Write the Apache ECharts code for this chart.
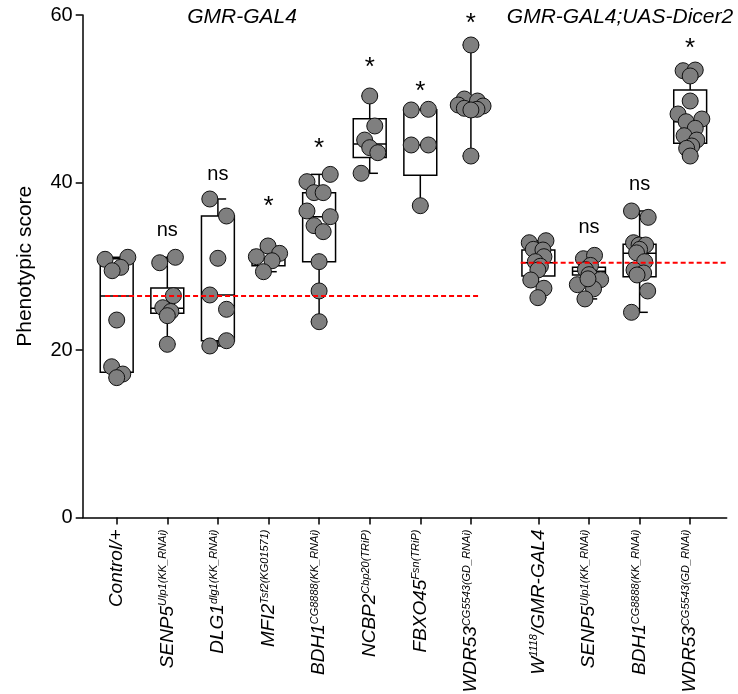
<!DOCTYPE html>
<html><head><meta charset="utf-8">
<script src="https://cdn.jsdelivr.net/npm/echarts@6/dist/echarts.min.js"></script>
<style>html,body{margin:0;padding:0;background:#fff}#c{width:738px;height:694px}</style>
</head><body><div id="c"></div>
<script>
// ---------- data ----------
const categories = ['Control/+','SENP5','DLG1','MFI2','BDH1','NCBP2','FBXO45','WDR53','W','SENP5','BDH1','WDR53'];
const supText   = ['','Ulp1(KK_RNAi)','dlg1(KK_RNAi)','Tsf2(KG01571)','CG8888(KK_RNAi)','Cbp20(TRiP)','Fsn(TRiP)','CG5543(GD_RNAi)','1118','Ulp1(KK_RNAi)','CG8888(KK_RNAi)','CG5543(GD_RNAi)'];
const tailText  = ['','','','','','','','','/GMR-GAL4','','',''];
const groupOf   = [0,0,0,0,0,0,0,0,1,1,1,1];
const groupTitles = ['GMR-GAL4','GMR-GAL4;UAS-Dicer2'];
const controlIndex = [0, 8];

const values = [
  [30.83,31.07,29.87,29.47,23.58,18.0,17.13,16.7],
  [30.42,31.07,26.49,25.05,24.6,24.1,20.68],
  [38.03,36.0,30.95,26.57,24.86,20.48,21.11],
  [32.42,31.14,31.54,30.66,29.35],
  [40.97,40.1,38.79,38.79,36.6,35.92,34.85,34.13,30.55,27.05,23.38],
  [50.33,46.75,45.07,44.16,43.56,41.1],
  [48.66,48.74,44.48,44.48,37.23],
  [56.42,49.97,49.73,49.25,49.13,48.86,48.74,48.66,43.16],
  [32.81,33.05,32.02,31.94,31.14,30.55,30.0,29.55,28.36,27.37,26.25],
  [30.9,31.3,30.1,29.6,29.0,27.8,28.4,27.3,28.5,26.1],
  [36.6,35.84,32.81,32.54,32.54,32.02,31.6,30.55,29.55,29.2,28.96,27.05,24.5],
  [53.35,53.43,52.72,49.73,48.18,47.58,47.26,46.47,45.59,45.07,44.36,44.08,43.16]
];
// horizontal spread of the dots (in category widths)
const jitter = [
  [-0.23,0.22,0.08,-0.09,0,-0.10,0.12,0],
  [-0.15,0.16,0.12,-0.09,0.07,0,0],
  [-0.16,0.17,0,-0.16,0.17,-0.16,0.17],
  [-0.01,-0.24,0.22,0.07,-0.10],
  [0.22,-0.24,-0.10,0.08,-0.24,0.22,-0.10,0.08,0,0,0],
  [0,0.10,-0.10,0,0.16,-0.17],
  [-0.18,0.16,-0.18,0.16,0],
  [0,-0.13,0.13,-0.25,0.24,-0.13,0.12,0,0],
  [-0.18,0.15,-0.10,0.09,0.11,-0.06,0.04,-0.01,-0.15,0.11,-0.01],
  [-0.11,0.11,0.03,-0.07,0,-0.23,0.23,0.09,-0.02,-0.08],
  [-0.16,0.17,-0.12,-0.01,0.12,0,-0.06,0.10,-0.11,0.08,-0.05,0.16,-0.16],
  [-0.14,0.10,0,0,-0.24,0.23,-0.08,0.10,-0.12,0.13,0.03,-0.07,0]
];
// [min, Q1, median, Q3, max]
const boxStats = [
  [16.7,17.35,26.45,30.9,31.07],
  [20.68,24.4,25.0,27.4,31.07],
  [20.48,21.11,26.57,36.0,38.03],
  [29.35,30.05,31.0,31.9,32.42],
  [23.38,30.55,35.92,38.79,40.97],
  [41.1,43.0,44.6,47.6,50.33],
  [37.23,40.86,44.48,48.7,48.74],
  [43.16,48.7,49.13,49.85,56.42],
  [26.25,28.84,30.43,31.94,33.05],
  [26.1,28.96,29.4,29.87,31.3],
  [24.5,28.76,31.54,32.62,36.6],
  [43.16,44.68,47.26,51.04,53.43]
];
const annotText  = ['','ns','ns','*','*','*','*','*','','ns','ns','*'];
const annotLevel = [null,34.13,40.81,37.9,44.87,54.5,51.7,59.8,null,34.5,39.7,56.8];
const yTicks = [0,20,40,60];

// ---------- layout / style ----------
const GROUP_GAP = 1/3;
const BOX_W = 0.65;
const FONT = '"Liberation Sans", Arial, sans-serif';
const baselinePad = [[0.23,0.18],[0.35,0.8]];
const pos = categories.map((c,i)=> i + groupOf[i]*GROUP_GAP);

const scatterData = [];
values.forEach((arr,i)=>arr.forEach((v,j)=>scatterData.push([pos[i]+jitter[i][j], v])));
const boxData = boxStats.map((s,i)=>[pos[i]].concat(s));
const annotData = [];
annotText.forEach((t,i)=>{ if(t) annotData.push([pos[i], annotLevel[i], t]); });

const baselineSeries = groupTitles.map((g,gi)=>{
  const idx = pos.map((p,i)=>i).filter(i=>groupOf[i]===gi);
  const b = boxStats[controlIndex[gi]][2];
  return {
    type:'line', z:5, silent:true, symbol:'none', clip:false,
    data:[[pos[idx[0]]-baselinePad[gi][0], b],[pos[idx[idx.length-1]]+baselinePad[gi][1], b]],
    lineStyle:{color:'#ff0000', width:2, type:[5,3]}
  };
});

function labelFor(val){
  let k = -1;
  for (let i=0;i<pos.length;i++) if (Math.abs(pos[i]-val)<1e-6) k=i;
  if (k<0) return '';
  let s = '{m|'+categories[k]+'}';
  if (supText[k]) s += '{s|'+supText[k]+'}';
  if (tailText[k]) s += '{m|'+tailText[k]+'}';
  return s;
}

const chart = echarts.init(document.getElementById('c'), null, {renderer:'canvas'});
chart.setOption({
  animation:false,
  backgroundColor:'#fff',
  grid:{left:82.7, right:11.3, top:15, bottom:176.5, containLabel:false, outerBoundsMode:'none'},
  xAxis:{
    type:'value', min:-0.672, max:12.055,
    splitLine:{show:false},
    axisLine:{show:true, onZero:false, lineStyle:{color:'#000', width:1.5}},
    axisTick:{show:true, customValues:pos, length:7, lineStyle:{color:'#000', width:1.5}},
    axisLabel:{
      show:true, customValues:pos, rotate:90, margin:12,
      formatter:labelFor,
      rich:{
        m:{fontSize:19, fontStyle:'italic', fontFamily:FONT, color:'#000'},
        s:{fontSize:11, fontStyle:'italic', fontFamily:FONT, color:'#000', verticalAlign:'top'}
      }
    }
  },
  yAxis:{
    type:'value', min:yTicks[0], max:yTicks[yTicks.length-1], interval:yTicks[1]-yTicks[0],
    name:'Phenotypic score', nameLocation:'middle', nameGap:47,
    nameTextStyle:{fontSize:21, fontFamily:FONT, color:'#000'},
    splitLine:{show:false},
    axisLine:{show:true, onZero:false, lineStyle:{color:'#000', width:1.5}},
    axisTick:{show:true, length:7, lineStyle:{color:'#000', width:1.5}},
    axisLabel:{fontSize:20, fontFamily:FONT, color:'#000', margin:10}
  },
  graphic: groupTitles.map((t,gi)=>({
    type:'text', z:100,
    x: gi===0 ? 242 : 620, y:17,
    style:{text:t, font:'italic 21px '+FONT, fill:'#000', align:'center', verticalAlign:'middle', textAlign:'center', textVerticalAlign:'middle'}
  })),
  series:[
    {
      type:'custom', z:2, silent:true, clip:false,
      data: boxData,
      encode:{x:0, y:[1,2,3,4,5]},
      renderItem:function(params, api){
        const x = api.value(0);
        const pMin = api.coord([x, api.value(1)]);
        const pQ1 = api.coord([x, api.value(2)]);
        const pMd = api.coord([x, api.value(3)]);
        const pQ3 = api.coord([x, api.value(4)]);
        const pMax = api.coord([x, api.value(5)]);
        const hw = api.size([BOX_W,0])[0]/2;
        const cap = hw/2;
        const cx = pMin[0];
        const st = {stroke:'#000', lineWidth:1.5, fill:null};
        return {type:'group', children:[
          {type:'line', shape:{x1:cx,y1:pQ3[1],x2:cx,y2:pMax[1]}, style:st},
          {type:'line', shape:{x1:cx,y1:pQ1[1],x2:cx,y2:pMin[1]}, style:st},
          {type:'line', shape:{x1:cx-cap,y1:pMax[1],x2:cx+cap,y2:pMax[1]}, style:st},
          {type:'line', shape:{x1:cx-cap,y1:pMin[1],x2:cx+cap,y2:pMin[1]}, style:st},
          {type:'rect', shape:{x:cx-hw,y:pQ3[1],width:2*hw,height:pQ1[1]-pQ3[1]}, style:{stroke:'#000', lineWidth:1.5, fill:'rgba(0,0,0,0)'}},
          {type:'line', shape:{x1:cx-hw,y1:pMd[1],x2:cx+hw,y2:pMd[1]}, style:st}
        ]};
      }
    },
    {
      type:'scatter', z:3, silent:true, clip:false,
      data: scatterData, symbol:'circle', symbolSize:16,
      itemStyle:{color:'#7f7f7f', borderColor:'#111', borderWidth:1, opacity:1}
    },
    ...baselineSeries,
    {
      type:'custom', z:6, silent:true, clip:false,
      data: annotData,
      encode:{x:0, y:1},
      renderItem:function(params, api){
        const d = annotData[params.dataIndex];
        const p = api.coord([d[0], d[1]]);
        const star = d[2]==='*';
        return {type:'text', x:p[0], y:p[1] + (star ? 7 : -1),
          style:{text:d[2], font:(star?'26px ':'20px ')+FONT, fill:'#000', align:'center', verticalAlign:'middle', textAlign:'center', textVerticalAlign:'middle'}};
      }
    }
  ]
});
</script></body></html>
